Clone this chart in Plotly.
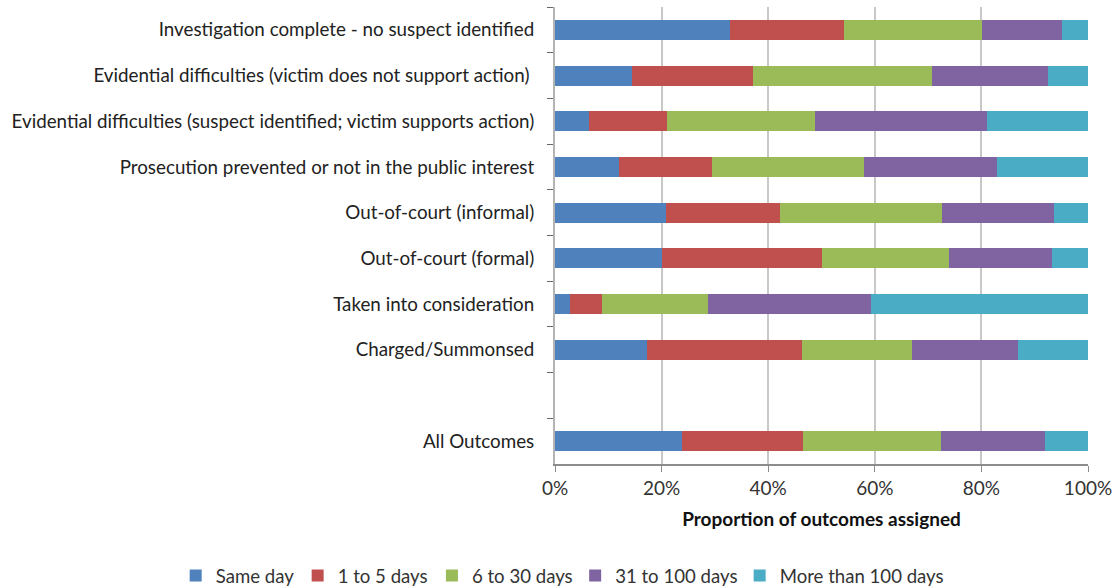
import plotly.graph_objects as go

categories = [
    "Investigation complete - no suspect identified",
    "Evidential difficulties (victim does not support action) ",
    "Evidential difficulties (suspect identified; victim supports action)",
    "Prosecution prevented or not in the public interest",
    "Out-of-court (informal)",
    "Out-of-court (formal)",
    "Taken into consideration",
    "Charged/Summonsed",
    " ",
    "All Outcomes",
]

series_names = ["Same day", "1 to 5 days", "6 to 30 days", "31 to 100 days", "More than 100 days"]

same_day = [32.8, 14.4, 6.4, 12.0, 20.8, 20.1, 2.8, 17.3, None, 23.8]
one_to_five = [21.4, 22.7, 14.6, 17.5, 21.4, 30.0, 6.0, 29.0, None, 22.7]
six_to_thirty = [25.9, 33.6, 27.8, 28.5, 30.4, 23.8, 19.9, 20.7, None, 25.9]
thirtyone_to_hundred = [15.0, 21.8, 32.3, 24.9, 21.0, 19.3, 30.6, 19.9, None, 19.5]
more_than_hundred = [4.9, 7.5, 18.9, 17.1, 6.4, 6.8, 40.7, 13.1, None, 8.1]

colors = ["#4F81BD", "#C0504D", "#9BBB59", "#8064A2", "#4BACC6"]
tick_vals = [0, 20, 40, 60, 80, 100]
tick_text = ["0%", "20%", "40%", "60%", "80%", "100%"]

# horizontal placement of each legend entry (fraction of figure width)
legend_x = [0.157, 0.266, 0.386, 0.514, 0.661]

FONT = "Lato"
W, H = 1119, 587

fig = go.Figure()
legend_ids = ["legend", "legend2", "legend3", "legend4", "legend5"]
for name, vals, col, lid in zip(series_names,
                                [same_day, one_to_five, six_to_thirty, thirtyone_to_hundred, more_than_hundred],
                                colors, legend_ids):
    fig.add_trace(go.Bar(
        y=categories, x=vals, name=name, orientation="h",
        marker=dict(color=col, line=dict(width=0)),
        legend=lid,
    ))

layout_legends = {}
for lid, lx in zip(legend_ids, legend_x):
    layout_legends[lid] = dict(
        orientation="h", x=lx, xref="container", xanchor="left",
        y=0.019, yref="container", yanchor="middle",
        font=dict(size=18.6, color="#333333"), itemwidth=30,
        bgcolor="rgba(0,0,0,0)",
    )

fig.update_layout(
    barmode="stack",
    barnorm="percent",
    bargap=0.56,
    width=W, height=H,
    margin=dict(l=555, r=31, t=7, b=123, autoexpand=False),
    paper_bgcolor="white", plot_bgcolor="white",
    font=dict(family=FONT, size=19, color="#222222"),
    showlegend=True,
    **layout_legends,
)

fig.update_xaxes(
    range=[0, 100], tickvals=tick_vals, ticktext=tick_text,
    showgrid=True, gridcolor="#C8C8C8", gridwidth=2,
    showline=True, linecolor="#8C8C8C", linewidth=2,
    ticks="outside", ticklen=6, tickcolor="#8C8C8C", tickwidth=1,
    tickfont=dict(size=19, color="#333333"),
    title=dict(text="<b>Proportion of outcomes assigned</b>", font=dict(size=19, color="#111111"), standoff=15),
    zeroline=False,
)
fig.update_yaxes(
    categoryorder="array", categoryarray=categories,
    autorange="reversed",
    showline=True, linecolor="#B4B4B4", linewidth=2,
    ticks="outside", tickson="boundaries", ticklen=6, tickcolor="#666666",
    tickfont=dict(size=18.8, color="#222222"),
    ticklabelstandoff=15,
    showgrid=False,
)

fig.write_html("out.html", config={"displayModeBar": False},
               post_script="document.body.style.margin='0';document.body.style.padding='0';")
